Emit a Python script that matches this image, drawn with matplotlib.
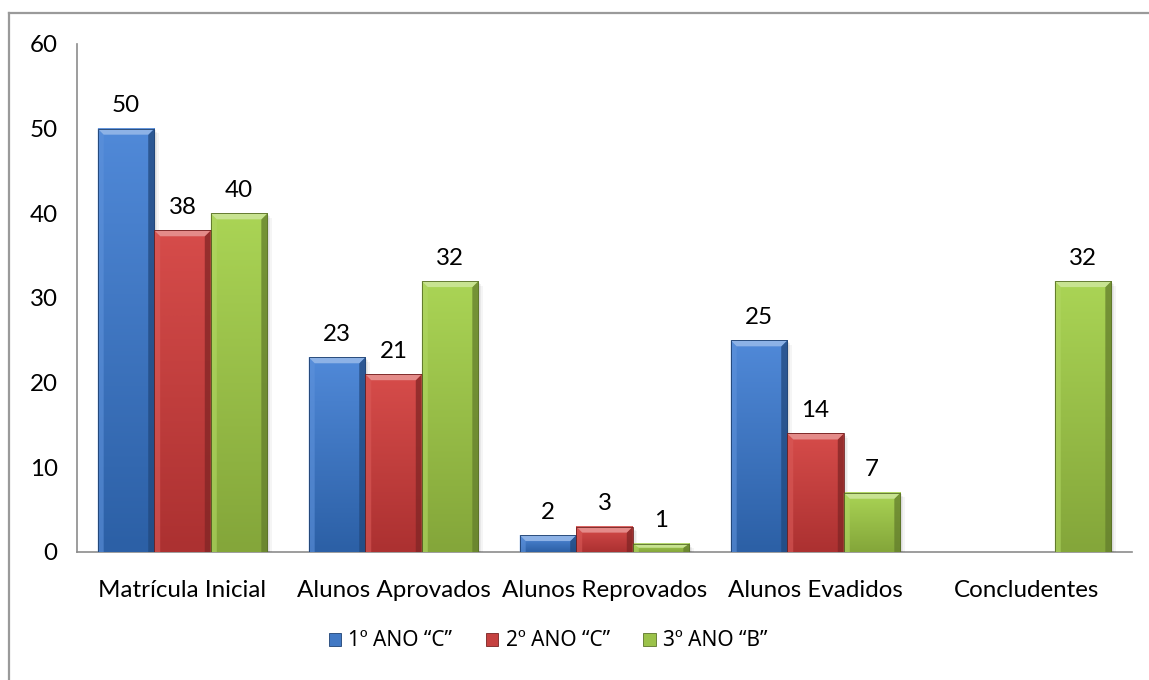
import numpy as np
import matplotlib
matplotlib.use("Agg")
import matplotlib.pyplot as plt
from matplotlib.patches import Polygon, Rectangle
from matplotlib.lines import Line2D
from matplotlib.colors import to_rgb, LinearSegmentedColormap

plt.rcParams['font.family'] = ['Lato', 'DejaVu Sans']

categories = ["Matrícula Inicial", "Alunos Aprovados", "Alunos Reprovados",
              "Alunos Evadidos", "Concludentes"]
series_names = ["1º ANO “C”", "2º ANO “C”", "3º ANO “B”"]
ano1_c = [50, 23, 2, 25, None]
ano2_c = [38, 21, 3, 14, None]
ano3_b = [40, 32, 1, 7, 32]
y_ticks = [0, 10, 20, 30, 40, 50, 60]

# light (top) / dark (bottom) shades of each series
shades = [("#5089d8", "#2c60a6"), ("#d64c4a", "#ac3131"), ("#aad455", "#84a63a")]

FS = 17.4

fig = plt.figure(figsize=(11.49, 6.80), dpi=100)
ax = fig.add_axes([77 / 1149, 128 / 680, (1132 - 77) / 1149, (636 - 128) / 680])
ax.set_xlim(-0.5, len(categories) - 0.5)
ax.set_ylim(0, 60)

width = 0.268
offsets = [-width, 0, width]
x = np.arange(len(categories))

# pixel -> data conversions for the bevel size
ax_w_px = (1132 - 77)
ax_h_px = (636 - 128)
px_x = 5.0 / ax_w_px
px_y = 60.0 / ax_h_px
bev = 6


def mix(c, t, a):
    c = np.array(to_rgb(c)); t = np.array(to_rgb(t))
    return tuple(c + (t - c) * a)


def beveled_bar(ax, xc, h, light, dark):
    x0, x1 = xc - width / 2, xc + width / 2
    bx = bev * px_x
    by = min(bev * px_y, h / 2)
    # soft shadow
    for i, a in enumerate([0.06, 0.05, 0.04]):
        d = (i + 1) * 1.5
        ax.add_patch(Rectangle((x0 + d * px_x, 0.0), x1 - x0, h - d * px_y,
                               facecolor=(0, 0, 0, a), edgecolor='none', zorder=1.5))
    # gradient face
    cmap = LinearSegmentedColormap.from_list("g", [dark, light])
    grad = np.linspace(0, 1, 64).reshape(-1, 1)
    ax.imshow(grad, cmap=cmap, aspect='auto', origin='lower',
              extent=(x0, x1, 0, h), zorder=2, interpolation='bicubic')
    # bevel facets
    top = Polygon([(x0, h), (x1, h), (x1 - bx, h - by), (x0 + bx, h - by)],
                  closed=True, facecolor=mix(light, "white", 0.35), edgecolor='none', zorder=3)
    left = Polygon([(x0, 0), (x0, h), (x0 + bx, h - by), (x0 + bx, 0)],
                   closed=True, facecolor=mix(light, "white", 0.08), edgecolor='none',
                   alpha=0.6, zorder=3)
    right = Polygon([(x1, 0), (x1, h), (x1 - bx, h - by), (x1 - bx, 0)],
                    closed=True, facecolor=mix(dark, "black", 0.25), edgecolor='none',
                    alpha=0.75, zorder=3)
    ax.add_patch(left)
    ax.add_patch(right)
    ax.add_patch(top)
    ax.add_patch(Rectangle((x0, 0), x1 - x0, h, facecolor='none',
                           edgecolor=mix(dark, "black", 0.35), linewidth=0.6, zorder=4))


for si, vals in enumerate([ano1_c, ano2_c, ano3_b]):
    light, dark = shades[si]
    for ci, v in enumerate(vals):
        if v is None:
            continue
        xc = x[ci] + offsets[si]
        beveled_bar(ax, xc, v, light, dark)
        ax.annotate(str(v), (xc, v), xytext=(0, 9), textcoords='offset points',
                    ha='center', va='bottom', fontsize=FS, color='black', zorder=5)

ax.set_xticks(x)
ax.set_xticklabels(categories, fontsize=FS)
ax.set_yticks(y_ticks)
ax.set_yticklabels([str(t) for t in y_ticks], fontsize=FS)
ax.tick_params(axis='x', length=0, pad=20)
ax.tick_params(axis='y', length=0, pad=14)
for s in ['top', 'right']:
    ax.spines[s].set_visible(False)
for s in ['left', 'bottom']:
    ax.spines[s].set_color('#8c8c8c')
    ax.spines[s].set_linewidth(1.2)
    ax.spines[s].set_zorder(1)

# legend
handles = [Rectangle((0, 0), 1, 1, facecolor=mix(l, d, 0.4), edgecolor=mix(d, 'black', 0.3),
                     linewidth=0.6) for (l, d) in shades]
leg = fig.legend(handles, series_names, loc='center', ncol=3, frameon=False,
                 bbox_to_anchor=(548 / 1149, 1 - 641 / 680),
                 prop={'family': ['Noto Sans', 'DejaVu Sans'], 'size': 15},
                 handlelength=0.6, handleheight=0.6, handletextpad=0.35, columnspacing=1.6)

# chart-area frame
fig.add_artist(Line2D([8.5 / 1149, 8.5 / 1149], [0, 1 - 12.5 / 680],
                      transform=fig.transFigure, color='#9a9a9a', linewidth=1.6))
fig.add_artist(Line2D([8.5 / 1149, 1], [1 - 12.5 / 680, 1 - 12.5 / 680],
                      transform=fig.transFigure, color='#9a9a9a', linewidth=1.6))

fig.savefig("out.png", dpi=100)
